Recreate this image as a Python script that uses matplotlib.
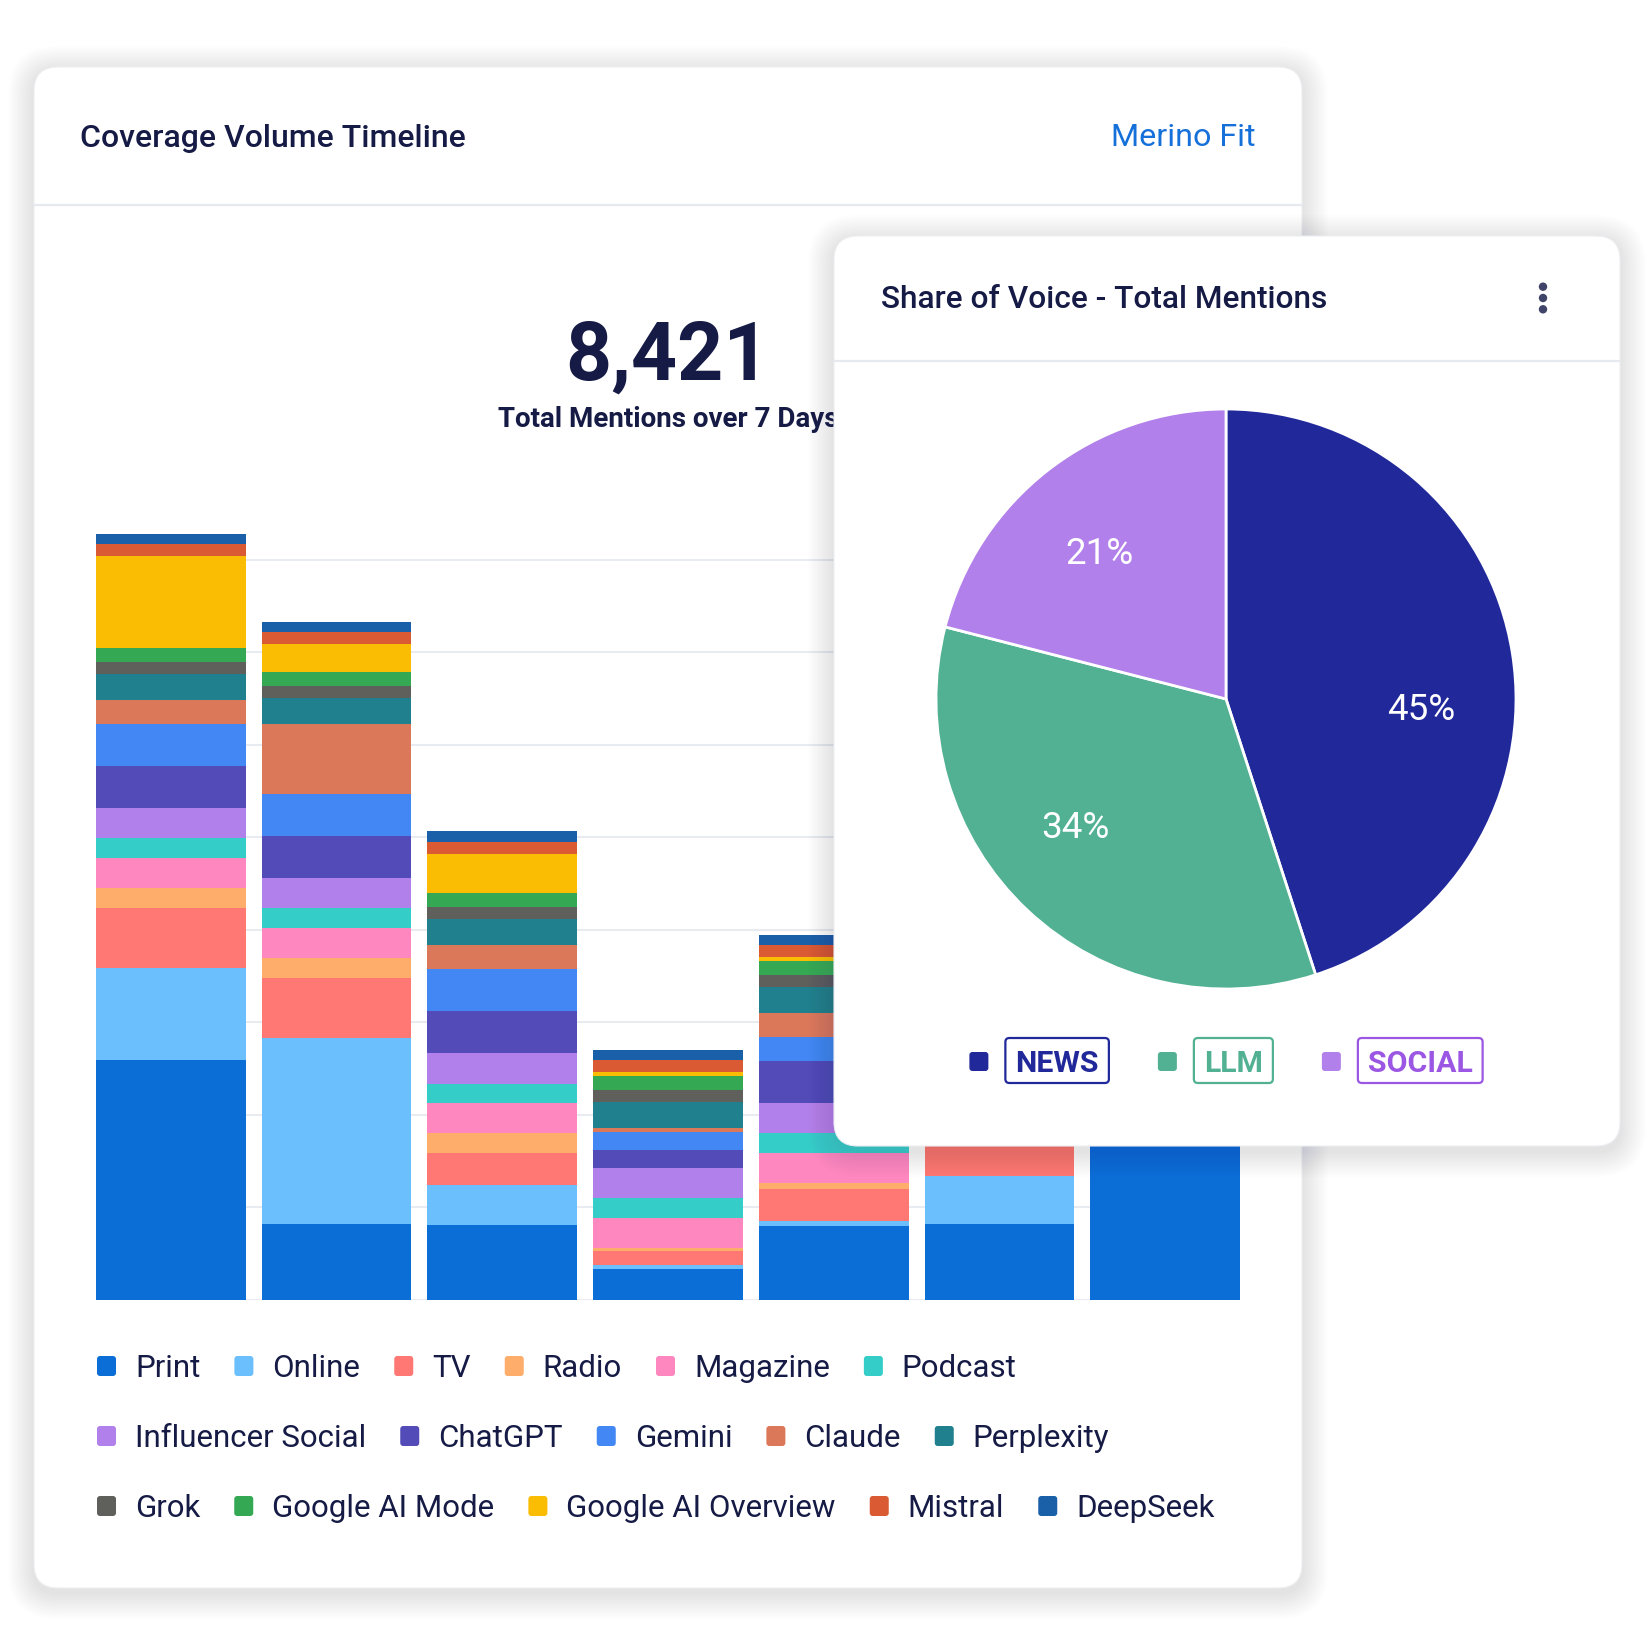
import matplotlib
matplotlib.use("Agg")
import matplotlib.pyplot as plt
from matplotlib.patches import FancyBboxPatch, Circle
import numpy as np

# ---------------- data ----------------
days = ["Day 1", "Day 2", "Day 3", "Day 4", "Day 5", "Day 6", "Day 7"]
series_names = ["Print", "Online", "TV", "Radio", "Magazine", "Podcast",
                "Influencer Social", "ChatGPT", "Gemini", "Claude", "Perplexity",
                "Grok", "Google AI Mode", "Google AI Overview", "Mistral", "DeepSeek"]
print_v      = [519, 164, 162, 66, 161, 164, 559]
online_v     = [199, 402, 86, 9, 9, 105, 150]
tv_v         = [130, 130, 69, 30, 69, 130, 130]
radio_v      = [43, 43, 43, 7, 13, 43, 43]
magazine_v   = [65, 65, 65, 65, 65, 65, 65]
podcast_v    = [43, 43, 43, 43, 43, 43, 43]
influencer_v = [65, 65, 65, 65, 65, 65, 65]
chatgpt_v    = [91, 91, 91, 39, 91, 91, 91]
gemini_v     = [91, 91, 91, 39, 52, 91, 91]
claude_v     = [52, 151, 52, 9, 52, 151, 52]
perplexity_v = [56, 56, 56, 56, 56, 56, 56]
grok_v       = [26, 26, 26, 26, 26, 26, 26]
aimode_v     = [30, 30, 30, 30, 30, 30, 30]
aioverview_v = [199, 61, 86, 9, 9, 199, 199]
mistral_v    = [26, 26, 26, 26, 26, 26, 26]
deepseek_v   = [22, 22, 22, 22, 22, 22, 22]
series_values = [print_v, online_v, tv_v, radio_v, magazine_v, podcast_v,
                 influencer_v, chatgpt_v, gemini_v, claude_v, perplexity_v,
                 grok_v, aimode_v, aioverview_v, mistral_v, deepseek_v]
series_colors = ["#0b6dd6", "#6bbffd", "#ff7873", "#ffad6b", "#ff87bf", "#35cdc8",
                 "#b280ea", "#534bb7", "#4387f5", "#dc785a", "#20808d",
                 "#5f5f5c", "#34a853", "#fbbc04", "#da5a33", "#1a60a8"]
legend_rows = [6, 5, 5]

total_mentions = "8,421"
pie_labels = ["NEWS", "LLM", "SOCIAL"]
pie_values = [45, 34, 21]
pie_colors = ["#21289a", "#51b192", "#b280ea"]
pie_text_colors = ["#21289a", "#51b192", "#9b57e3"]

# ---------------- style ----------------
NAVY = "#161b46"
FONT = "Roboto"
W = H = 1648
fig = plt.figure(figsize=(W / 100, H / 100), dpi=100)
fig.patch.set_facecolor("white")


def canvas(z):
    a = fig.add_axes([0, 0, 1, 1], zorder=z)
    a.set_xlim(0, W)
    a.set_ylim(H, 0)
    a.axis("off")
    a.patch.set_visible(False)
    return a


def shadow(a, x, y, w, h, r, spread=26, off=5, total=0.09, n=14):
    for k in range(n):
        e = spread * (k + 1) / n
        a.add_patch(FancyBboxPatch((x - e, y - e + off), w + 2 * e, h + 2 * e,
                                   boxstyle=f"round,pad=0,rounding_size={r + e}",
                                   fc="#3a4560", ec="none", alpha=total / n))


def card(a, x, y, w, h, r=24):
    shadow(a, x, y, w, h, r)
    a.add_patch(FancyBboxPatch((x, y), w, h, boxstyle=f"round,pad=0,rounding_size={r}",
                               fc="white", ec="#eceef2", lw=0.8))


def fig_rect(x0, y0, x1, y1):
    return [x0 / W, (H - y1) / H, (x1 - x0) / W, (y1 - y0) / H]


# ---------------- bottom layer: main card ----------------
bg = canvas(0)
card(bg, 34, 67, 1268, 1521)
bg.plot([34, 1302], [205, 205], color="#e6e9ee", lw=1.6)
bg.text(80, 147, "Coverage Volume Timeline", ha="left", va="baseline",
        fontsize=23, fontweight="medium", color=NAVY, family=FONT)
bg.text(1256, 146, "Merino Fit", ha="right", va="baseline",
        fontsize=23.2, color="#1570d9", family=FONT)
bg.text(668, 379.5, total_mentions, ha="center", va="baseline",
        fontsize=58, fontweight="bold", color=NAVY, family=FONT)
bg.text(668, 427, "Total Mentions over 7 Days", ha="center", va="baseline",
        fontsize=20, fontweight="bold", color=NAVY, family=FONT)

# legend (chart.js style, left aligned rows)
renderer = fig.canvas.get_renderer()
idx = 0
row_base = [1377, 1447, 1517]
for r_i, cnt in enumerate(legend_rows):
    x = 97
    yb = row_base[r_i]
    for j in range(cnt):
        name = series_names[idx]
        col = series_colors[idx]
        bg.add_patch(FancyBboxPatch((x, yb - 21), 19, 20,
                                    boxstyle="round,pad=0,rounding_size=3",
                                    fc=col, ec="none"))
        t = bg.text(x + 38, yb, name, ha="left", va="baseline",
                    fontsize=22.5, color=NAVY, family=FONT)
        bb = t.get_window_extent(renderer)
        x = x + 38 + bb.width + 34
        idx += 1

# ---------------- bar chart ----------------
bw = 150 / 166
bax = fig.add_axes(fig_rect(96, 490.6, 1240, 1300), zorder=1)
bax.patch.set_visible(False)
xpos = np.arange(len(days))
bottom = np.zeros(len(days))
for vals, col, name in zip(series_values, series_colors, series_names):
    v = np.array(vals, dtype=float)
    bax.bar(xpos, v, bw, bottom=bottom, color=col, linewidth=0, zorder=3, label=name)
    bottom += v
bax.set_xlim(-bw / 2, len(days) - 1 + bw / 2)
bax.set_ylim(0, 1750)
bax.set_yticks(np.arange(0, 1601, 200))
bax.set_xticks([])
bax.tick_params(axis="y", length=0, labelleft=False)
bax.grid(axis="y", color="#e8ebf0", lw=1.5, zorder=0)
for s in bax.spines.values():
    s.set_visible(False)

# ---------------- overlay: pie card ----------------
ov = canvas(2)
card(ov, 834, 236, 786, 910)
ov.plot([834, 1620], [361, 361], color="#e6e9ee", lw=1.6)
ov.text(881, 308, "Share of Voice - Total Mentions", ha="left", va="baseline",
        fontsize=22.8, fontweight="medium", color=NAVY, family=FONT)
for dy in (-11.3, 0, 11.3):
    ov.add_patch(Circle((1543, 298 + dy), 4.2, fc="#3f4468", ec="none"))

# ---------------- pie ----------------
R = 290
cx, cy = 1226, 699

# pie legend
pad = 10
items = []
tot = 0
for lab, tc in zip(pie_labels, pie_text_colors):
    t = ov.text(0, 1072, lab, ha="center", va="baseline", fontsize=21.8,
                fontweight="bold", color=tc, family=FONT)
    tw = t.get_window_extent(renderer).width
    items.append((t, tw))
    tot += 19 + 17 + tw + 2 * pad
tot += 49 * (len(pie_labels) - 1)
x = cx - tot / 2
for (t, tw), sc, tc in zip(items, pie_colors, pie_text_colors):
    ov.add_patch(FancyBboxPatch((x, 1052), 19, 19, boxstyle="round,pad=0,rounding_size=3",
                                fc=sc, ec="none"))
    bx = x + 19 + 17
    ov.add_patch(FancyBboxPatch((bx, 1038), tw + 2 * pad, 45,
                                boxstyle="round,pad=0,rounding_size=4",
                                fc="white", ec=tc, lw=1.6))
    t.set_x(bx + pad + tw / 2)
    x = bx + tw + 2 * pad + 49

lim = 1.04
pax = fig.add_axes(fig_rect(cx - R * lim, cy - R * lim, cx + R * lim, cy + R * lim), zorder=3)
pax.pie(pie_values, colors=pie_colors, startangle=90, counterclock=False, radius=1,
        wedgeprops=dict(edgecolor="white", linewidth=2))
pax.set_xlim(-lim, lim)
pax.set_ylim(-lim, lim)
pax.set_aspect("equal")
pax.axis("off")
label_nudge = [-11, -7, 2.5]
fr = np.array(pie_values) / np.sum(pie_values)
start = 90.0
for f, nd in zip(fr, label_nudge):
    mid = start - f * 360 / 2 + nd
    start -= f * 360
    a = np.deg2rad(mid)
    pax.text(0.675 * np.cos(a), 0.675 * np.sin(a), f"{round(f * 100)}%",
             ha="center", va="center_baseline", fontsize=26.5, color="white", family=FONT)

fig.savefig("out.png", dpi=100, facecolor="white")
